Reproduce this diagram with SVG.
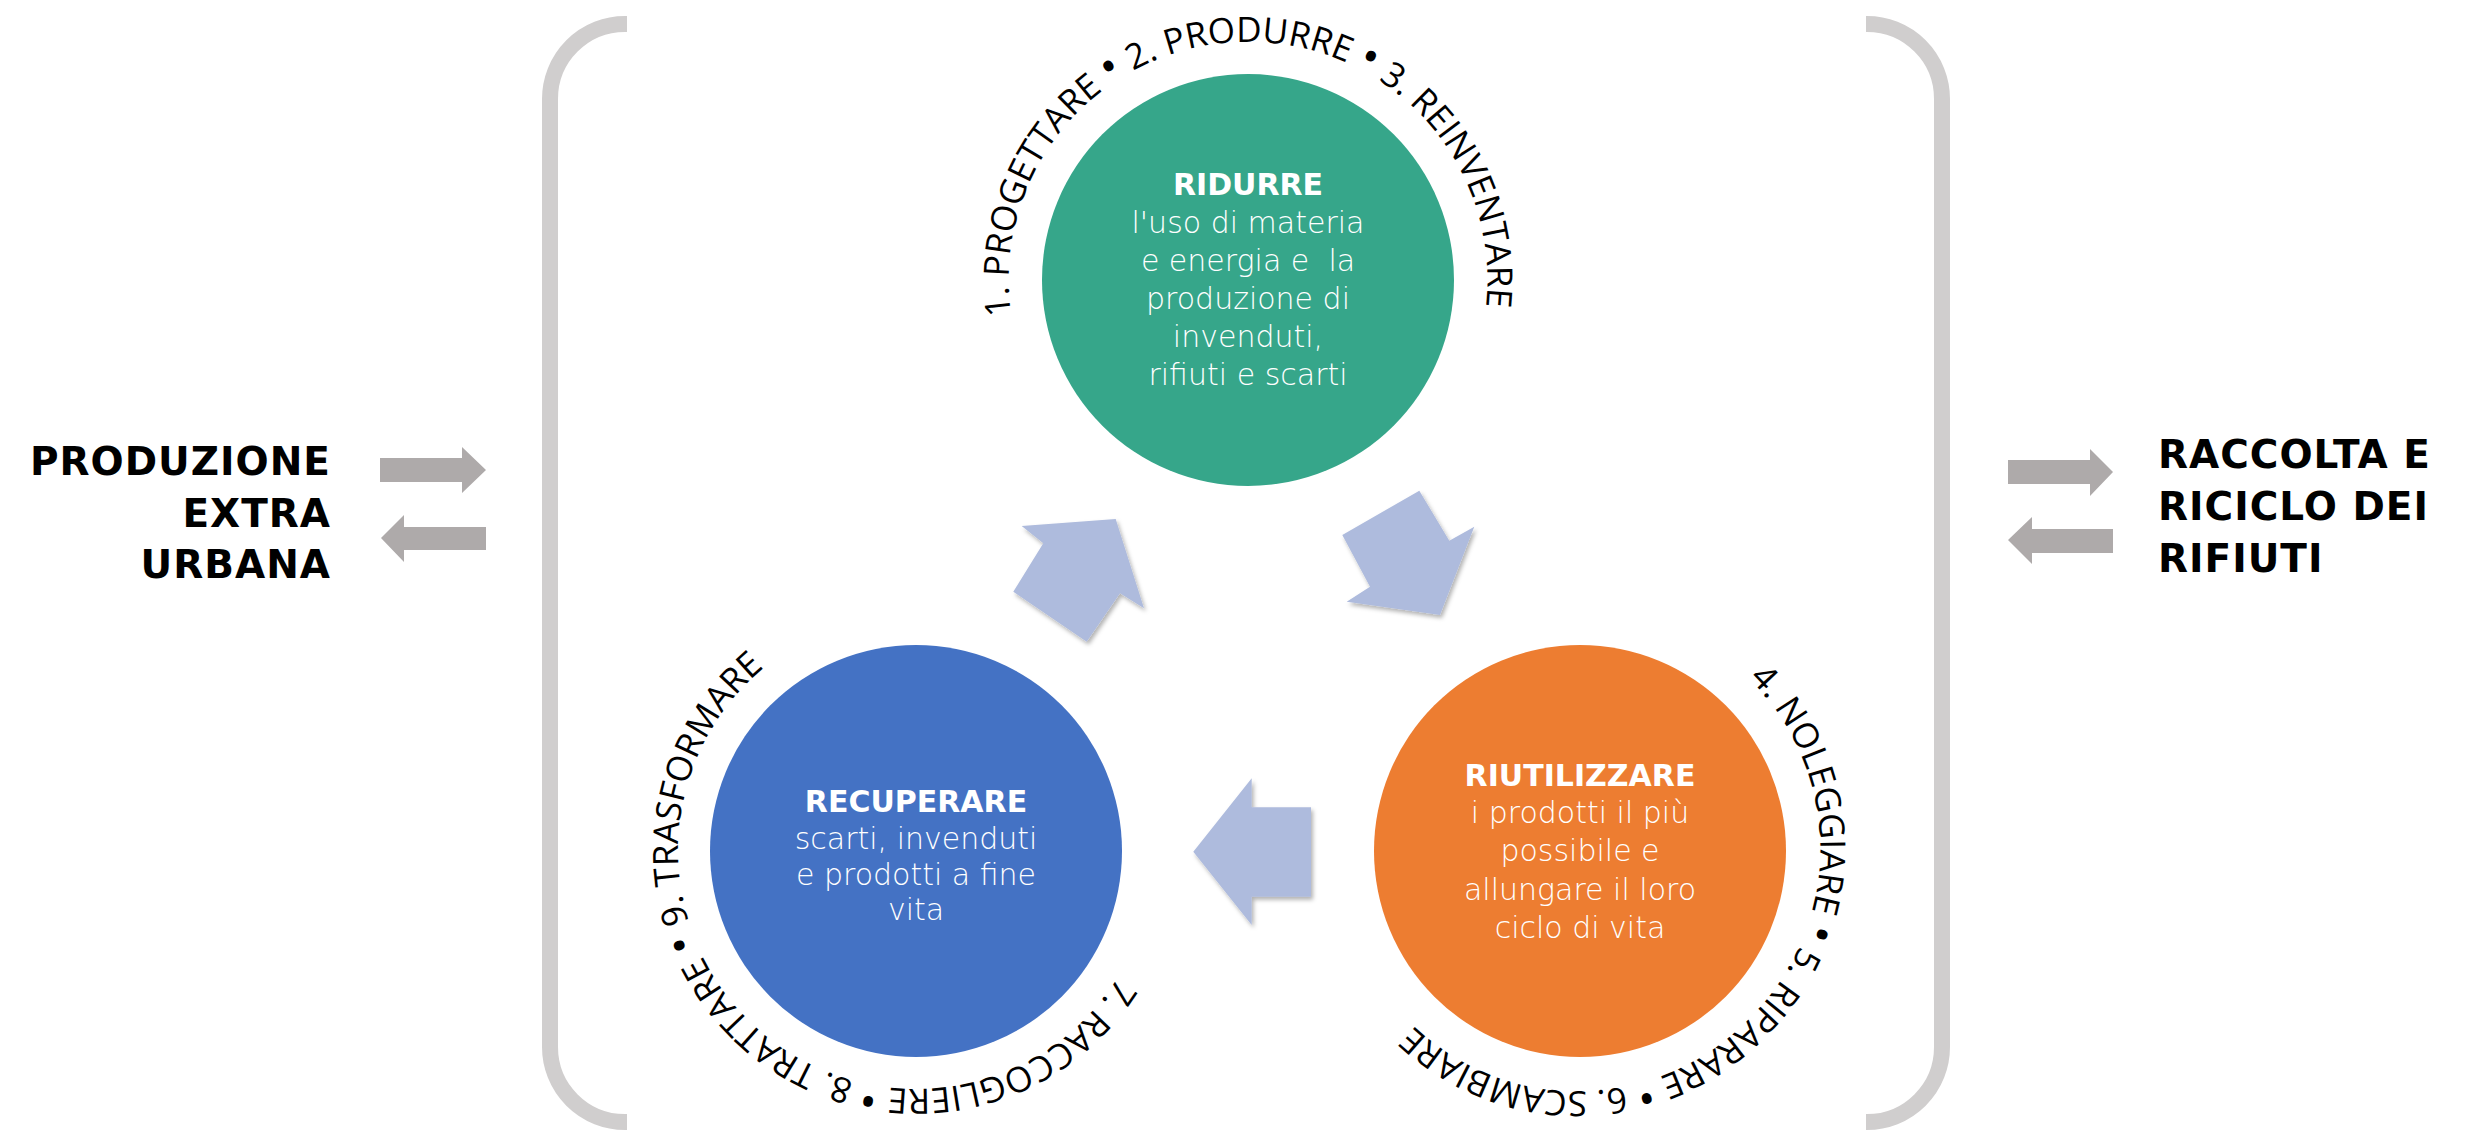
<svg xmlns="http://www.w3.org/2000/svg" xmlns:xlink="http://www.w3.org/1999/xlink" width="2468" height="1130" viewBox="0 0 2468 1130">
<style>
.bracket{fill:none;stroke:#D0CECE;stroke-width:16}
.side{font-family:"DejaVu Sans","Liberation Sans",sans-serif;font-weight:700;font-size:39px;fill:#000;letter-spacing:1px}
.garrow{fill:#AEAAAA}
.carrow{fill:#AEBBDD;filter:url(#sh)}
.ttl{font-family:"DejaVu Sans","Liberation Sans",sans-serif;font-weight:700;font-size:30px;fill:#fff;text-anchor:middle}
.body{font-family:"DejaVu Sans","Liberation Sans",sans-serif;font-weight:300;font-size:30px;fill:#fff;text-anchor:middle;white-space:pre}
.ring{font-family:"Open Sans","Liberation Sans",sans-serif;font-size:35px;fill:#000}
.dot{font-size:46px}
</style>
<defs>
<filter id="sh" x="-20%" y="-20%" width="140%" height="140%">
<feDropShadow dx="2" dy="3" stdDeviation="2" flood-color="#000" flood-opacity="0.3"/>
</filter>
<path id="pG" d="M 1252.15 517.96 A 238 238 0 1 1 1243.85 42.04 A 238 238 0 1 1 1252.15 517.96"/>
<path id="pB" d="M 1073.1 672.2 A 238 238 0 1 1 758.9 1029.8 A 238 238 0 1 1 1073.1 672.2"/>
<path id="pO" d="M 1408.8 685.7 A 238 238 0 1 1 1751.2 1016.3 A 238 238 0 1 1 1408.8 685.7"/>
</defs>

<g id="bracket-left"><path class="bracket" d="M 627 24 L 625 24 A 75 75 0 0 0 550 99 L 550 1047 A 75 75 0 0 0 625 1122 L 627 1122"/></g>
<g id="bracket-right"><path class="bracket" d="M 1866 24 L 1867 24 A 75 75 0 0 1 1942 99 L 1942 1047 A 75 75 0 0 1 1867 1122 L 1866 1122"/></g>

<g id="produzione">
<text class="side" text-anchor="end"><tspan x="331" y="475">PRODUZIONE</tspan><tspan x="331" y="527">EXTRA</tspan><tspan x="331" y="578">URBANA</tspan></text>
</g>
<g id="raccolta">
<text class="side"><tspan x="2158" y="468">RACCOLTA E</tspan><tspan x="2158" y="520">RICICLO DEI</tspan><tspan x="2158" y="572">RIFIUTI</tspan></text>
</g>

<g id="connectors">
<polygon class="garrow" points="380,458 462,458 462,447 486,470 462,493 462,482 380,482"/>
<polygon class="garrow" points="486,527 404,527 404,515 381,538 404,562 404,550 486,550"/>
<polygon class="garrow" points="2008,460 2090,460 2090,449 2113,472 2090,496 2090,484 2008,484"/>
<polygon class="garrow" points="2113,529 2032,529 2032,517 2008,540 2032,564 2032,553 2113,553"/>
<polygon class="carrow" points="1115.7,519 1144,608.3 1120,593.3 1086.7,641.7 1013.3,591.7 1043.3,543.3 1021.7,526"/>
<polygon class="carrow" points="1440,615 1346.7,601.7 1370,586.7 1342.3,535 1419.3,490.7 1449.3,540.7 1474.3,526.7"/>
<polygon class="carrow" points="1193.3,851.7 1251.7,778.3 1251.7,807.3 1311,807.3 1311,896.7 1251.7,896.7 1251.7,925"/>
</g>

<g id="ridurre">
<circle cx="1248" cy="280" r="206" fill="#36A68A"/>
<text class="ttl" x="1248" y="195">RIDURRE</text>
<text class="body"><tspan x="1248" y="233">l'uso di materia</tspan><tspan x="1248" y="271">e energia e  la</tspan><tspan x="1248" y="309">produzione di</tspan><tspan x="1248" y="347">invenduti,</tspan><tspan x="1248" y="385">rifiuti e scarti</tspan></text>
<text class="ring"><textPath xlink:href="#pG" href="#pG" startOffset="50%" text-anchor="middle">1. PROGETTARE <tspan class="dot">•</tspan> 2. PRODURRE <tspan class="dot">•</tspan> 3. REINVENTARE</textPath></text>
</g>

<g id="recuperare">
<circle cx="916" cy="851" r="206" fill="#4472C4"/>
<text class="ttl" x="916" y="812">RECUPERARE</text>
<text class="body"><tspan x="916" y="849">scarti, invenduti</tspan><tspan x="916" y="885">e prodotti a fine</tspan><tspan x="916" y="920">vita</tspan></text>
<text class="ring"><textPath xlink:href="#pB" href="#pB" startOffset="50%" text-anchor="middle">7. RACCOGLIERE <tspan class="dot">•</tspan> 8. TRATTARE <tspan class="dot">•</tspan> 9. TRASFORMARE</textPath></text>
</g>

<g id="riutilizzare">
<circle cx="1580" cy="851" r="206" fill="#ED7D31"/>
<text class="ttl" x="1580" y="786">RIUTILIZZARE</text>
<text class="body"><tspan x="1580" y="823">i prodotti il più</tspan><tspan x="1580" y="861">possibile e</tspan><tspan x="1580" y="900">allungare il loro</tspan><tspan x="1580" y="938">ciclo di vita</tspan></text>
<text class="ring"><textPath xlink:href="#pO" href="#pO" startOffset="50%" text-anchor="middle">4. NOLEGGIARE <tspan class="dot">•</tspan> 5. RIPARARE <tspan class="dot">•</tspan> 6. SCAMBIARE</textPath></text>
</g>
</svg>
